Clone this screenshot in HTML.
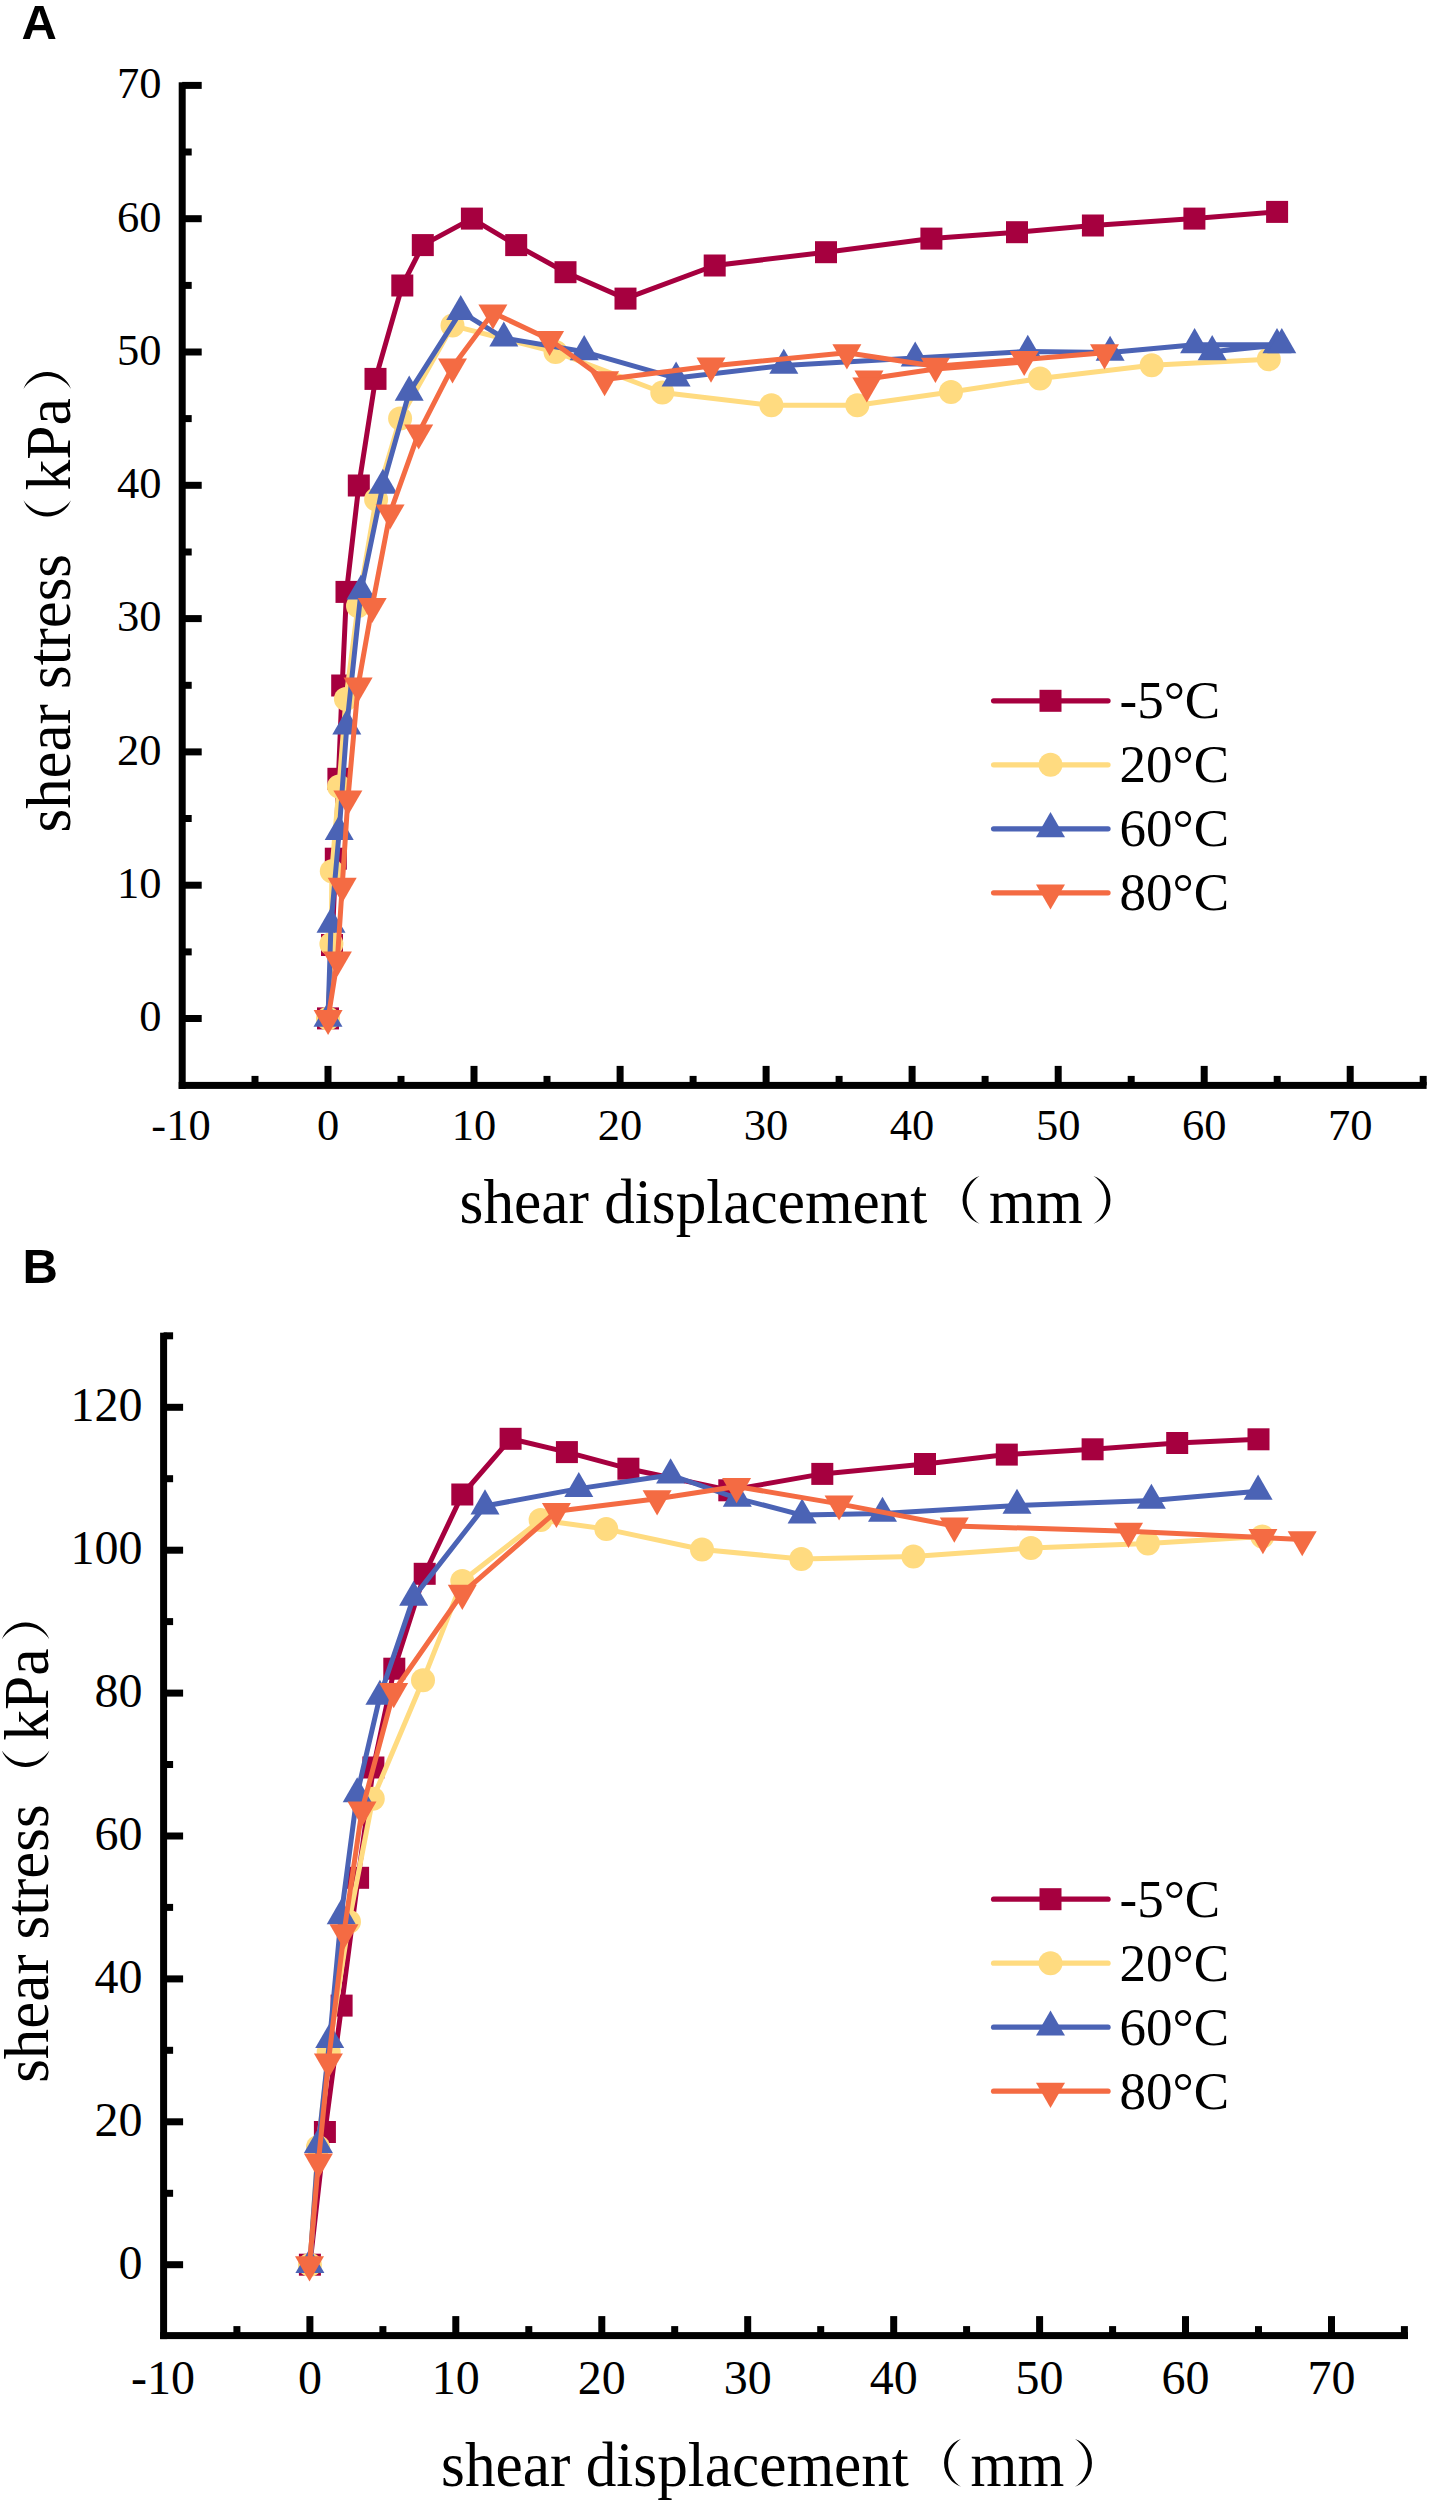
<!DOCTYPE html>
<html><head><meta charset="utf-8"><style>
html,body{margin:0;padding:0;background:#fff;}
body{width:1429px;height:2500px;overflow:hidden;}
svg{display:block;}
.t{font-family:"Liberation Serif",serif;font-size:63px;fill:#000;}
.n{font-family:"Liberation Serif",serif;font-size:44.5px;fill:#000;}
.nb{font-family:"Liberation Serif",serif;font-size:48px;fill:#000;}
.lg{font-family:"Liberation Serif",serif;font-size:53px;fill:#000;}
.lab{font-family:"Liberation Sans",sans-serif;font-weight:bold;font-size:49px;fill:#000;}
</style></head><body>
<svg width="1429" height="2500" viewBox="0 0 1429 2500">
<rect width="1429" height="2500" fill="#fff"/>
<rect x="178.7" y="82.3" width="7" height="1006.6" fill="#000"/>
<rect x="178.7" y="1081.9" width="1247.9" height="7" fill="#000"/>
<rect x="251.5" y="1075.9" width="7" height="9.5" fill="#000"/>
<rect x="324.5" y="1065.9" width="7" height="19.5" fill="#000"/>
<rect x="397.5" y="1075.9" width="7" height="9.5" fill="#000"/>
<rect x="470.5" y="1065.9" width="7" height="19.5" fill="#000"/>
<rect x="543.5" y="1075.9" width="7" height="9.5" fill="#000"/>
<rect x="616.6" y="1065.9" width="7" height="19.5" fill="#000"/>
<rect x="689.6" y="1075.9" width="7" height="9.5" fill="#000"/>
<rect x="762.6" y="1065.9" width="7" height="19.5" fill="#000"/>
<rect x="835.6" y="1075.9" width="7" height="9.5" fill="#000"/>
<rect x="908.6" y="1065.9" width="7" height="19.5" fill="#000"/>
<rect x="981.6" y="1075.9" width="7" height="9.5" fill="#000"/>
<rect x="1054.7" y="1065.9" width="7" height="19.5" fill="#000"/>
<rect x="1127.7" y="1075.9" width="7" height="9.5" fill="#000"/>
<rect x="1200.7" y="1065.9" width="7" height="19.5" fill="#000"/>
<rect x="1273.7" y="1075.9" width="7" height="9.5" fill="#000"/>
<rect x="1346.7" y="1065.9" width="7" height="19.5" fill="#000"/>
<rect x="1419.7" y="1075.9" width="7" height="9.5" fill="#000"/>
<rect x="182.2" y="1015" width="19.5" height="7" fill="#000"/>
<rect x="182.2" y="948.4" width="9.5" height="7" fill="#000"/>
<rect x="182.2" y="881.7" width="19.5" height="7" fill="#000"/>
<rect x="182.2" y="815" width="9.5" height="7" fill="#000"/>
<rect x="182.2" y="748.4" width="19.5" height="7" fill="#000"/>
<rect x="182.2" y="681.8" width="9.5" height="7" fill="#000"/>
<rect x="182.2" y="615.1" width="19.5" height="7" fill="#000"/>
<rect x="182.2" y="548.5" width="9.5" height="7" fill="#000"/>
<rect x="182.2" y="481.8" width="19.5" height="7" fill="#000"/>
<rect x="182.2" y="415.1" width="9.5" height="7" fill="#000"/>
<rect x="182.2" y="348.5" width="19.5" height="7" fill="#000"/>
<rect x="182.2" y="281.9" width="9.5" height="7" fill="#000"/>
<rect x="182.2" y="215.2" width="19.5" height="7" fill="#000"/>
<rect x="182.2" y="148.5" width="9.5" height="7" fill="#000"/>
<rect x="182.2" y="81.9" width="19.5" height="7" fill="#000"/>
<text x="181" y="1139.8" class="n" text-anchor="middle">-10</text>
<text x="328" y="1139.8" class="n" text-anchor="middle">0</text>
<text x="474" y="1139.8" class="n" text-anchor="middle">10</text>
<text x="620.1" y="1139.8" class="n" text-anchor="middle">20</text>
<text x="766.1" y="1139.8" class="n" text-anchor="middle">30</text>
<text x="912.1" y="1139.8" class="n" text-anchor="middle">40</text>
<text x="1058.2" y="1139.8" class="n" text-anchor="middle">50</text>
<text x="1204.2" y="1139.8" class="n" text-anchor="middle">60</text>
<text x="1350.2" y="1139.8" class="n" text-anchor="middle">70</text>
<text x="161.5" y="1031.3" class="n" text-anchor="end">0</text>
<text x="161.5" y="898" class="n" text-anchor="end">10</text>
<text x="161.5" y="764.7" class="n" text-anchor="end">20</text>
<text x="161.5" y="631.4" class="n" text-anchor="end">30</text>
<text x="161.5" y="498.1" class="n" text-anchor="end">40</text>
<text x="161.5" y="364.8" class="n" text-anchor="end">50</text>
<text x="161.5" y="231.5" class="n" text-anchor="end">60</text>
<text x="161.5" y="98.2" class="n" text-anchor="end">70</text>
<text x="21.5" y="38.7" class="lab">A</text>
<polyline points="328,1018.4 332,945 335.8,858.7 338.4,778.8 342.2,685.5 346.5,591.9 358.8,485.5 375.5,378.9 402.3,285.5 422.8,245.1 471.9,218.6 516.2,245.1 565.5,272.2 625.5,298.6 714.7,265.5 826,252.2 931.4,238.6 1017,232.2 1092.9,225.5 1194.4,218.6 1277.1,211.9" fill="none" stroke="#A6003F" stroke-width="5" stroke-linejoin="round" stroke-linecap="round"/>
<rect x="317" y="1007.4" width="22" height="22" fill="#A6003F"/>
<rect x="321" y="934" width="22" height="22" fill="#A6003F"/>
<rect x="324.8" y="847.7" width="22" height="22" fill="#A6003F"/>
<rect x="327.4" y="767.8" width="22" height="22" fill="#A6003F"/>
<rect x="331.2" y="674.5" width="22" height="22" fill="#A6003F"/>
<rect x="335.5" y="580.9" width="22" height="22" fill="#A6003F"/>
<rect x="347.8" y="474.5" width="22" height="22" fill="#A6003F"/>
<rect x="364.5" y="367.9" width="22" height="22" fill="#A6003F"/>
<rect x="391.3" y="274.5" width="22" height="22" fill="#A6003F"/>
<rect x="411.8" y="234.1" width="22" height="22" fill="#A6003F"/>
<rect x="460.9" y="207.6" width="22" height="22" fill="#A6003F"/>
<rect x="505.2" y="234.1" width="22" height="22" fill="#A6003F"/>
<rect x="554.5" y="261.2" width="22" height="22" fill="#A6003F"/>
<rect x="614.5" y="287.6" width="22" height="22" fill="#A6003F"/>
<rect x="703.7" y="254.5" width="22" height="22" fill="#A6003F"/>
<rect x="815" y="241.2" width="22" height="22" fill="#A6003F"/>
<rect x="920.4" y="227.6" width="22" height="22" fill="#A6003F"/>
<rect x="1006" y="221.2" width="22" height="22" fill="#A6003F"/>
<rect x="1081.9" y="214.5" width="22" height="22" fill="#A6003F"/>
<rect x="1183.4" y="207.6" width="22" height="22" fill="#A6003F"/>
<rect x="1266.1" y="200.9" width="22" height="22" fill="#A6003F"/>
<polyline points="328,1018.4 331.4,944 331.8,871.2 339,786.5 345.9,699 358,606 376.1,499.5 400.1,418.4 452.5,325.6 555.5,352 662.3,392.5 771.4,405.3 857.3,405.3 951,392 1040,378.5 1151.7,365.2 1268.8,359.3" fill="none" stroke="#FFDB80" stroke-width="5" stroke-linejoin="round" stroke-linecap="round"/>
<circle cx="328" cy="1018.4" r="12" fill="#FFDB80"/>
<circle cx="331.4" cy="944" r="12" fill="#FFDB80"/>
<circle cx="331.8" cy="871.2" r="12" fill="#FFDB80"/>
<circle cx="339" cy="786.5" r="12" fill="#FFDB80"/>
<circle cx="345.9" cy="699" r="12" fill="#FFDB80"/>
<circle cx="358" cy="606" r="12" fill="#FFDB80"/>
<circle cx="376.1" cy="499.5" r="12" fill="#FFDB80"/>
<circle cx="400.1" cy="418.4" r="12" fill="#FFDB80"/>
<circle cx="452.5" cy="325.6" r="12" fill="#FFDB80"/>
<circle cx="555.5" cy="352" r="12" fill="#FFDB80"/>
<circle cx="662.3" cy="392.5" r="12" fill="#FFDB80"/>
<circle cx="771.4" cy="405.3" r="12" fill="#FFDB80"/>
<circle cx="857.3" cy="405.3" r="12" fill="#FFDB80"/>
<circle cx="951" cy="392" r="12" fill="#FFDB80"/>
<circle cx="1040" cy="378.5" r="12" fill="#FFDB80"/>
<circle cx="1151.7" cy="365.2" r="12" fill="#FFDB80"/>
<circle cx="1268.8" cy="359.3" r="12" fill="#FFDB80"/>
<polyline points="328,1018.4 331,924.3 339.2,831.6 346.8,726 361,591.2 382.9,485.4 409.2,392.3 460.7,311.7 503.8,338.1 584.2,351.8 676.1,378.1 783.8,365.4 915.2,358.1 1027.8,351.4 1110.1,352.4 1194.6,344.8 1277,344.8 1212.2,351.8 1281.8,344.8" fill="none" stroke="#4B63B5" stroke-width="5" stroke-linejoin="round" stroke-linecap="round"/>
<path d="M328,1001.7 L342.5,1026.8 L313.5,1026.8 Z" fill="#4B63B5"/>
<path d="M331,907.6 L345.5,932.7 L316.5,932.7 Z" fill="#4B63B5"/>
<path d="M339.2,814.9 L353.7,840 L324.7,840 Z" fill="#4B63B5"/>
<path d="M346.8,709.3 L361.3,734.4 L332.3,734.4 Z" fill="#4B63B5"/>
<path d="M361,574.5 L375.5,599.6 L346.5,599.6 Z" fill="#4B63B5"/>
<path d="M382.9,468.7 L397.4,493.8 L368.4,493.8 Z" fill="#4B63B5"/>
<path d="M409.2,375.6 L423.7,400.7 L394.7,400.7 Z" fill="#4B63B5"/>
<path d="M460.7,295 L475.2,320.1 L446.2,320.1 Z" fill="#4B63B5"/>
<path d="M503.8,321.4 L518.3,346.5 L489.3,346.5 Z" fill="#4B63B5"/>
<path d="M584.2,335.1 L598.7,360.2 L569.7,360.2 Z" fill="#4B63B5"/>
<path d="M676.1,361.4 L690.6,386.5 L661.6,386.5 Z" fill="#4B63B5"/>
<path d="M783.8,348.7 L798.3,373.8 L769.3,373.8 Z" fill="#4B63B5"/>
<path d="M915.2,341.4 L929.7,366.5 L900.7,366.5 Z" fill="#4B63B5"/>
<path d="M1027.8,334.7 L1042.3,359.8 L1013.3,359.8 Z" fill="#4B63B5"/>
<path d="M1110.1,335.7 L1124.6,360.8 L1095.6,360.8 Z" fill="#4B63B5"/>
<path d="M1194.6,328.1 L1209.1,353.2 L1180.1,353.2 Z" fill="#4B63B5"/>
<path d="M1277,328.1 L1291.5,353.2 L1262.5,353.2 Z" fill="#4B63B5"/>
<path d="M1212.2,335.1 L1226.7,360.2 L1197.7,360.2 Z" fill="#4B63B5"/>
<path d="M1281.8,328.1 L1296.3,353.2 L1267.3,353.2 Z" fill="#4B63B5"/>
<polyline points="328.1,1018.4 337.4,959.8 342.2,886.2 347.9,798.8 358.1,685.8 372.2,606.3 390.1,512.8 418.7,432.8 452.5,366.9 492.9,312.8 549.6,339.4 604.6,379.6 711,366 846.9,352.7 935.4,366.2 1024.2,359.4 1104.5,352.7" fill="none" stroke="#F46B43" stroke-width="5" stroke-linejoin="round" stroke-linecap="round"/>
<polyline points="866.8,385.8 869,378.8 935.4,369 1024.2,362" fill="none" stroke="#F46B43" stroke-width="5" stroke-linejoin="round" stroke-linecap="round"/>
<path d="M328.1,1035.1 L342.6,1010 L313.6,1010 Z" fill="#F46B43"/>
<path d="M337.4,976.5 L351.9,951.4 L322.9,951.4 Z" fill="#F46B43"/>
<path d="M342.2,902.9 L356.7,877.8 L327.7,877.8 Z" fill="#F46B43"/>
<path d="M347.9,815.5 L362.4,790.4 L333.4,790.4 Z" fill="#F46B43"/>
<path d="M358.1,702.5 L372.6,677.4 L343.6,677.4 Z" fill="#F46B43"/>
<path d="M372.2,623 L386.7,597.9 L357.7,597.9 Z" fill="#F46B43"/>
<path d="M390.1,529.5 L404.6,504.4 L375.6,504.4 Z" fill="#F46B43"/>
<path d="M418.7,449.5 L433.2,424.4 L404.2,424.4 Z" fill="#F46B43"/>
<path d="M452.5,383.6 L467,358.5 L438,358.5 Z" fill="#F46B43"/>
<path d="M492.9,329.5 L507.4,304.4 L478.4,304.4 Z" fill="#F46B43"/>
<path d="M549.6,356.1 L564.1,331 L535.1,331 Z" fill="#F46B43"/>
<path d="M604.6,396.3 L619.1,371.2 L590.1,371.2 Z" fill="#F46B43"/>
<path d="M711,382.7 L725.5,357.6 L696.5,357.6 Z" fill="#F46B43"/>
<path d="M846.9,369.4 L861.4,344.3 L832.4,344.3 Z" fill="#F46B43"/>
<path d="M935.4,382.9 L949.9,357.8 L920.9,357.8 Z" fill="#F46B43"/>
<path d="M1024.2,376.1 L1038.7,351 L1009.7,351 Z" fill="#F46B43"/>
<path d="M1104.5,369.4 L1119,344.3 L1090,344.3 Z" fill="#F46B43"/>
<path d="M869,395.5 L883.5,370.4 L854.5,370.4 Z" fill="#F46B43"/>
<path d="M866.8,402.5 L881.3,377.4 L852.3,377.4 Z" fill="#F46B43"/>
<line x1="993.6" y1="700.8" x2="1108" y2="700.8" stroke="#A6003F" stroke-width="5.3" stroke-linecap="round"/>
<rect x="1039.5" y="689.8" width="22" height="22" fill="#A6003F"/>
<text x="1119.5" y="718.4" class="lg">-5°C</text>
<line x1="993.6" y1="764.8" x2="1108" y2="764.8" stroke="#FFDB80" stroke-width="5.3" stroke-linecap="round"/>
<circle cx="1050.5" cy="764.8" r="12" fill="#FFDB80"/>
<text x="1119.5" y="782.4" class="lg">20°C</text>
<line x1="993.6" y1="828.8" x2="1108" y2="828.8" stroke="#4B63B5" stroke-width="5.3" stroke-linecap="round"/>
<path d="M1050.5,812.1 L1065,837.2 L1036,837.2 Z" fill="#4B63B5"/>
<text x="1119.5" y="846.4" class="lg">60°C</text>
<line x1="993.6" y1="892.8" x2="1108" y2="892.8" stroke="#F46B43" stroke-width="5.3" stroke-linecap="round"/>
<path d="M1050.5,909.5 L1065,884.4 L1036,884.4 Z" fill="#F46B43"/>
<text x="1119.5" y="910.4" class="lg">80°C</text>
<text x="459.6" y="1222.5" class="t" textLength="467.8" lengthAdjust="spacingAndGlyphs">shear displacement</text>
<text x="989.1" y="1222.5" class="t" textLength="93.6" lengthAdjust="spacingAndGlyphs">mm</text>
<path d="M979.5,1176.1 A25.2,25.2 0 0 0 979.5,1223.7 A28.4,28.4 0 0 1 979.5,1176.1 Z" fill="#000"/>
<path d="M1093.5,1176.1 A25.2,25.2 0 0 1 1093.5,1223.7 A28.4,28.4 0 0 0 1093.5,1176.1 Z" fill="#000"/>
<g transform="translate(69.8,830.4) rotate(-90)"><text x="-2" y="0" class="t" textLength="278.4" lengthAdjust="spacingAndGlyphs">shear stress</text>
<text x="340" y="0" class="t" textLength="92.3" lengthAdjust="spacingAndGlyphs">kPa</text>
<path d="M330.2,-46.4 A25.5,25.5 0 0 0 330.2,1.2 A29.2,29.2 0 0 1 330.2,-46.4 Z" fill="#000"/>
<path d="M441.4,-46.4 A25.2,25.2 0 0 1 441.4,1.2 A28.3,28.3 0 0 0 441.4,-46.4 Z" fill="#000"/></g>
<rect x="160.1" y="1332.7" width="7" height="1006.4" fill="#000"/>
<rect x="160.1" y="2332.1" width="1247.9" height="7" fill="#000"/>
<rect x="233.4" y="2326.1" width="7" height="9.5" fill="#000"/>
<rect x="306.4" y="2316.1" width="7" height="19.5" fill="#000"/>
<rect x="379.4" y="2326.1" width="7" height="9.5" fill="#000"/>
<rect x="452.3" y="2316.1" width="7" height="19.5" fill="#000"/>
<rect x="525.3" y="2326.1" width="7" height="9.5" fill="#000"/>
<rect x="598.3" y="2316.1" width="7" height="19.5" fill="#000"/>
<rect x="671.2" y="2326.1" width="7" height="9.5" fill="#000"/>
<rect x="744.2" y="2316.1" width="7" height="19.5" fill="#000"/>
<rect x="817.2" y="2326.1" width="7" height="9.5" fill="#000"/>
<rect x="890.2" y="2316.1" width="7" height="19.5" fill="#000"/>
<rect x="963.1" y="2326.1" width="7" height="9.5" fill="#000"/>
<rect x="1036.1" y="2316.1" width="7" height="19.5" fill="#000"/>
<rect x="1109.1" y="2326.1" width="7" height="9.5" fill="#000"/>
<rect x="1182" y="2316.1" width="7" height="19.5" fill="#000"/>
<rect x="1255" y="2326.1" width="7" height="9.5" fill="#000"/>
<rect x="1328" y="2316.1" width="7" height="19.5" fill="#000"/>
<rect x="1400.9" y="2326.1" width="7" height="9.5" fill="#000"/>
<rect x="163.6" y="2261.2" width="19.5" height="7" fill="#000"/>
<rect x="163.6" y="2189.8" width="9.5" height="7" fill="#000"/>
<rect x="163.6" y="2118.3" width="19.5" height="7" fill="#000"/>
<rect x="163.6" y="2046.8" width="9.5" height="7" fill="#000"/>
<rect x="163.6" y="1975.4" width="19.5" height="7" fill="#000"/>
<rect x="163.6" y="1903.9" width="9.5" height="7" fill="#000"/>
<rect x="163.6" y="1832.5" width="19.5" height="7" fill="#000"/>
<rect x="163.6" y="1761" width="9.5" height="7" fill="#000"/>
<rect x="163.6" y="1689.6" width="19.5" height="7" fill="#000"/>
<rect x="163.6" y="1618.1" width="9.5" height="7" fill="#000"/>
<rect x="163.6" y="1546.7" width="19.5" height="7" fill="#000"/>
<rect x="163.6" y="1475.2" width="9.5" height="7" fill="#000"/>
<rect x="163.6" y="1403.8" width="19.5" height="7" fill="#000"/>
<rect x="163.6" y="1332.3" width="9.5" height="7" fill="#000"/>
<text x="163" y="2394.2" class="nb" text-anchor="middle">-10</text>
<text x="309.9" y="2394.2" class="nb" text-anchor="middle">0</text>
<text x="455.8" y="2394.2" class="nb" text-anchor="middle">10</text>
<text x="601.8" y="2394.2" class="nb" text-anchor="middle">20</text>
<text x="747.7" y="2394.2" class="nb" text-anchor="middle">30</text>
<text x="893.7" y="2394.2" class="nb" text-anchor="middle">40</text>
<text x="1039.6" y="2394.2" class="nb" text-anchor="middle">50</text>
<text x="1185.5" y="2394.2" class="nb" text-anchor="middle">60</text>
<text x="1331.5" y="2394.2" class="nb" text-anchor="middle">70</text>
<text x="142.5" y="2278.6" class="nb" text-anchor="end">0</text>
<text x="142.5" y="2135.7" class="nb" text-anchor="end">20</text>
<text x="142.5" y="1992.8" class="nb" text-anchor="end">40</text>
<text x="142.5" y="1849.9" class="nb" text-anchor="end">60</text>
<text x="142.5" y="1707" class="nb" text-anchor="end">80</text>
<text x="142.5" y="1564.1" class="nb" text-anchor="end">100</text>
<text x="142.5" y="1421.2" class="nb" text-anchor="end">120</text>
<text x="22.5" y="1283.4" class="lab">B</text>
<polyline points="309.9,2264.7 324.9,2132 341.6,2005.6 358.1,1877.8 373.4,1767.5 394.3,1668.7 424.7,1573.8 462.3,1494.5 510.6,1438.8 566.9,1452.1 628.4,1468.7 729.3,1490.3 822.3,1473.9 925,1464 1006.8,1454.6 1092.6,1449.3 1177.2,1443 1258.5,1439.3" fill="none" stroke="#A6003F" stroke-width="5" stroke-linejoin="round" stroke-linecap="round"/>
<rect x="298.9" y="2253.7" width="22" height="22" fill="#A6003F"/>
<rect x="313.9" y="2121" width="22" height="22" fill="#A6003F"/>
<rect x="330.6" y="1994.6" width="22" height="22" fill="#A6003F"/>
<rect x="347.1" y="1866.8" width="22" height="22" fill="#A6003F"/>
<rect x="362.4" y="1756.5" width="22" height="22" fill="#A6003F"/>
<rect x="383.3" y="1657.7" width="22" height="22" fill="#A6003F"/>
<rect x="413.7" y="1562.8" width="22" height="22" fill="#A6003F"/>
<rect x="451.3" y="1483.5" width="22" height="22" fill="#A6003F"/>
<rect x="499.6" y="1427.8" width="22" height="22" fill="#A6003F"/>
<rect x="555.9" y="1441.1" width="22" height="22" fill="#A6003F"/>
<rect x="617.4" y="1457.7" width="22" height="22" fill="#A6003F"/>
<rect x="718.3" y="1479.3" width="22" height="22" fill="#A6003F"/>
<rect x="811.3" y="1462.9" width="22" height="22" fill="#A6003F"/>
<rect x="914" y="1453" width="22" height="22" fill="#A6003F"/>
<rect x="995.8" y="1443.6" width="22" height="22" fill="#A6003F"/>
<rect x="1081.6" y="1438.3" width="22" height="22" fill="#A6003F"/>
<rect x="1166.2" y="1432" width="22" height="22" fill="#A6003F"/>
<rect x="1247.5" y="1428.3" width="22" height="22" fill="#A6003F"/>
<polyline points="309.9,2264.7 318,2147 328.7,2052 349,1921.7 372.8,1798.8 423,1680.3 462.3,1581 540.6,1520.1 606.3,1529.1 702,1549.5 801.3,1558.9 913.4,1556.4 1030.9,1548 1147.9,1543.5 1262.3,1536.5" fill="none" stroke="#FFDB80" stroke-width="5" stroke-linejoin="round" stroke-linecap="round"/>
<circle cx="309.9" cy="2264.7" r="12" fill="#FFDB80"/>
<circle cx="318" cy="2147" r="12" fill="#FFDB80"/>
<circle cx="328.7" cy="2052" r="12" fill="#FFDB80"/>
<circle cx="349" cy="1921.7" r="12" fill="#FFDB80"/>
<circle cx="372.8" cy="1798.8" r="12" fill="#FFDB80"/>
<circle cx="423" cy="1680.3" r="12" fill="#FFDB80"/>
<circle cx="462.3" cy="1581" r="12" fill="#FFDB80"/>
<circle cx="540.6" cy="1520.1" r="12" fill="#FFDB80"/>
<circle cx="606.3" cy="1529.1" r="12" fill="#FFDB80"/>
<circle cx="702" cy="1549.5" r="12" fill="#FFDB80"/>
<circle cx="801.3" cy="1558.9" r="12" fill="#FFDB80"/>
<circle cx="913.4" cy="1556.4" r="12" fill="#FFDB80"/>
<circle cx="1030.9" cy="1548" r="12" fill="#FFDB80"/>
<circle cx="1147.9" cy="1543.5" r="12" fill="#FFDB80"/>
<circle cx="1262.3" cy="1536.5" r="12" fill="#FFDB80"/>
<polyline points="309.9,2264.7 318.4,2144.6 329.7,2039.6 341.2,1915.8 357.2,1793.9 379.9,1696.4 413.6,1597.4 485,1506 578.8,1488.6 670.6,1475 737.3,1498.3 802.1,1515.1 882.5,1513.4 1017,1505.4 1151.4,1500.4 1258.1,1491.3" fill="none" stroke="#4B63B5" stroke-width="5" stroke-linejoin="round" stroke-linecap="round"/>
<path d="M309.9,2248 L324.4,2273.1 L295.4,2273.1 Z" fill="#4B63B5"/>
<path d="M318.4,2127.9 L332.9,2153 L303.9,2153 Z" fill="#4B63B5"/>
<path d="M329.7,2022.9 L344.2,2048 L315.2,2048 Z" fill="#4B63B5"/>
<path d="M341.2,1899.1 L355.7,1924.2 L326.7,1924.2 Z" fill="#4B63B5"/>
<path d="M357.2,1777.2 L371.7,1802.3 L342.7,1802.3 Z" fill="#4B63B5"/>
<path d="M379.9,1679.7 L394.4,1704.8 L365.4,1704.8 Z" fill="#4B63B5"/>
<path d="M413.6,1580.7 L428.1,1605.8 L399.1,1605.8 Z" fill="#4B63B5"/>
<path d="M485,1489.3 L499.5,1514.4 L470.5,1514.4 Z" fill="#4B63B5"/>
<path d="M578.8,1471.9 L593.3,1497 L564.3,1497 Z" fill="#4B63B5"/>
<path d="M670.6,1458.3 L685.1,1483.4 L656.1,1483.4 Z" fill="#4B63B5"/>
<path d="M737.3,1481.6 L751.8,1506.7 L722.8,1506.7 Z" fill="#4B63B5"/>
<path d="M802.1,1498.4 L816.6,1523.5 L787.6,1523.5 Z" fill="#4B63B5"/>
<path d="M882.5,1496.7 L897,1521.8 L868,1521.8 Z" fill="#4B63B5"/>
<path d="M1017,1488.7 L1031.5,1513.8 L1002.5,1513.8 Z" fill="#4B63B5"/>
<path d="M1151.4,1483.7 L1165.9,1508.8 L1136.9,1508.8 Z" fill="#4B63B5"/>
<path d="M1258.1,1474.6 L1272.6,1499.7 L1243.6,1499.7 Z" fill="#4B63B5"/>
<polyline points="309.5,2264.7 318.4,2162 328.4,2061.8 344,1932.6 362,1810 393.7,1691.5 462.3,1593.2 556.4,1511.3 657.1,1498.7 736.6,1486.5 839.1,1503.9 954.3,1526 1128.5,1531.2 1262.9,1537.5 1302.2,1539.6" fill="none" stroke="#F46B43" stroke-width="5" stroke-linejoin="round" stroke-linecap="round"/>
<path d="M309.5,2281.4 L324,2256.3 L295,2256.3 Z" fill="#F46B43"/>
<path d="M318.4,2178.7 L332.9,2153.6 L303.9,2153.6 Z" fill="#F46B43"/>
<path d="M328.4,2078.5 L342.9,2053.4 L313.9,2053.4 Z" fill="#F46B43"/>
<path d="M344,1949.3 L358.5,1924.2 L329.5,1924.2 Z" fill="#F46B43"/>
<path d="M362,1826.7 L376.5,1801.6 L347.5,1801.6 Z" fill="#F46B43"/>
<path d="M393.7,1708.2 L408.2,1683.1 L379.2,1683.1 Z" fill="#F46B43"/>
<path d="M462.3,1609.9 L476.8,1584.8 L447.8,1584.8 Z" fill="#F46B43"/>
<path d="M556.4,1528 L570.9,1502.9 L541.9,1502.9 Z" fill="#F46B43"/>
<path d="M657.1,1515.4 L671.6,1490.3 L642.6,1490.3 Z" fill="#F46B43"/>
<path d="M736.6,1503.2 L751.1,1478.1 L722.1,1478.1 Z" fill="#F46B43"/>
<path d="M839.1,1520.6 L853.6,1495.5 L824.6,1495.5 Z" fill="#F46B43"/>
<path d="M954.3,1542.7 L968.8,1517.6 L939.8,1517.6 Z" fill="#F46B43"/>
<path d="M1128.5,1547.9 L1143,1522.8 L1114,1522.8 Z" fill="#F46B43"/>
<path d="M1262.9,1554.2 L1277.4,1529.1 L1248.4,1529.1 Z" fill="#F46B43"/>
<path d="M1302.2,1556.3 L1316.7,1531.2 L1287.7,1531.2 Z" fill="#F46B43"/>
<line x1="993.6" y1="1899.2" x2="1108" y2="1899.2" stroke="#A6003F" stroke-width="5.3" stroke-linecap="round"/>
<rect x="1039.5" y="1888.2" width="22" height="22" fill="#A6003F"/>
<text x="1119.5" y="1916.8" class="lg">-5°C</text>
<line x1="993.6" y1="1963.2" x2="1108" y2="1963.2" stroke="#FFDB80" stroke-width="5.3" stroke-linecap="round"/>
<circle cx="1050.5" cy="1963.2" r="12" fill="#FFDB80"/>
<text x="1119.5" y="1980.8" class="lg">20°C</text>
<line x1="993.6" y1="2027.2" x2="1108" y2="2027.2" stroke="#4B63B5" stroke-width="5.3" stroke-linecap="round"/>
<path d="M1050.5,2010.5 L1065,2035.6 L1036,2035.6 Z" fill="#4B63B5"/>
<text x="1119.5" y="2044.8" class="lg">60°C</text>
<line x1="993.6" y1="2091.2" x2="1108" y2="2091.2" stroke="#F46B43" stroke-width="5.3" stroke-linecap="round"/>
<path d="M1050.5,2107.9 L1065,2082.8 L1036,2082.8 Z" fill="#F46B43"/>
<text x="1119.5" y="2108.8" class="lg">80°C</text>
<text x="441.1" y="2485.5" class="t" textLength="467.8" lengthAdjust="spacingAndGlyphs">shear displacement</text>
<text x="970.6" y="2485.5" class="t" textLength="93.6" lengthAdjust="spacingAndGlyphs">mm</text>
<path d="M961,2439.1 A25.2,25.2 0 0 0 961,2486.7 A28.4,28.4 0 0 1 961,2439.1 Z" fill="#000"/>
<path d="M1075,2439.1 A25.2,25.2 0 0 1 1075,2486.7 A28.4,28.4 0 0 0 1075,2439.1 Z" fill="#000"/>
<g transform="translate(48.2,2080.8) rotate(-90)"><text x="-2" y="0" class="t" textLength="278.4" lengthAdjust="spacingAndGlyphs">shear stress</text>
<text x="340" y="0" class="t" textLength="92.3" lengthAdjust="spacingAndGlyphs">kPa</text>
<path d="M330.2,-46.4 A25.5,25.5 0 0 0 330.2,1.2 A29.2,29.2 0 0 1 330.2,-46.4 Z" fill="#000"/>
<path d="M441.4,-46.4 A25.2,25.2 0 0 1 441.4,1.2 A28.3,28.3 0 0 0 441.4,-46.4 Z" fill="#000"/></g>
</svg>
</body></html>
